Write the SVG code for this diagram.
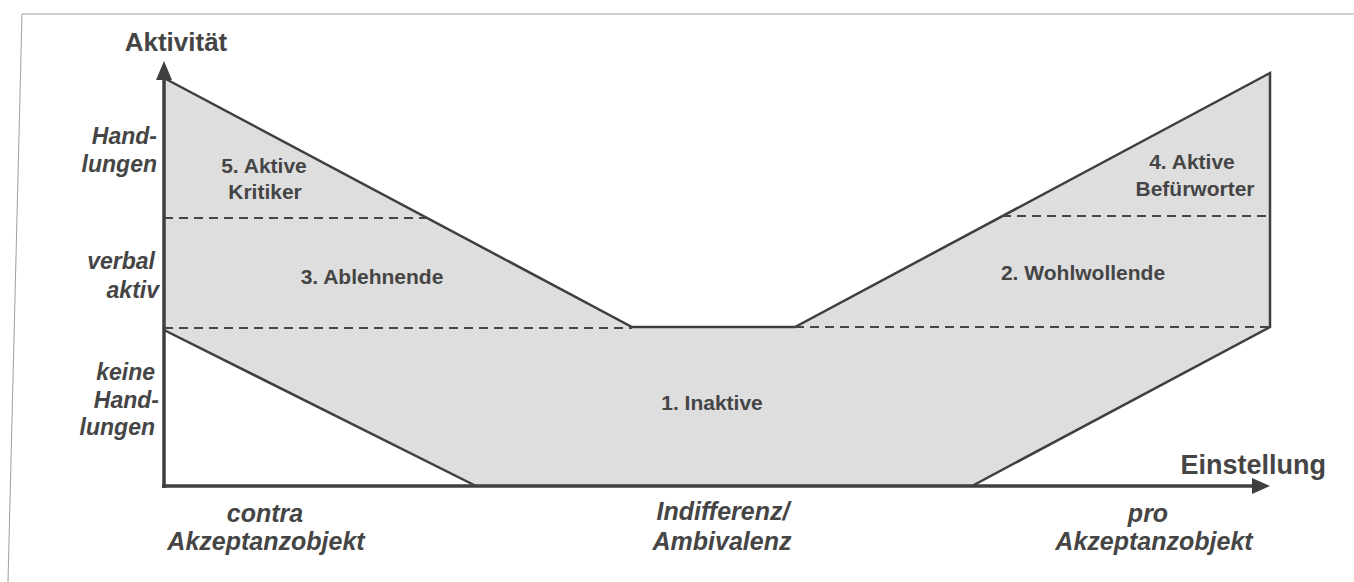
<svg xmlns="http://www.w3.org/2000/svg" width="1354" height="582" viewBox="0 0 1354 582">
  <defs>
    <style>
      .region { fill: #dedede; stroke: none; }
      .outline { fill: none; stroke: #3f3f3f; stroke-width: 2.5; stroke-linejoin: miter; }
      .dash { fill: none; stroke: #454545; stroke-width: 2.2; stroke-dasharray: 9 6; }
      .axis { fill: none; stroke: #3f3f3f; stroke-width: 3.5; }
      .lbl { font-family: "Liberation Sans", Arial, sans-serif; font-weight: bold; fill: #454545; font-size: 21px; text-anchor: middle; }
      .ax { font-family: "Liberation Sans", Arial, sans-serif; font-weight: bold; fill: #454545; }
      .it { font-family: "Liberation Sans", Arial, sans-serif; font-weight: bold; font-style: italic; fill: #454545; }
    </style>
  </defs>
  <rect x="0" y="0" width="1354" height="582" fill="#ffffff"/>
  <path d="M1354,14 L22,14 L8,582" fill="none" stroke="#a0a0a0" stroke-width="1"/>

  <g id="shape">
    <polygon class="region" points="164,78 632,327 795,327 1270,73 1270,327 972,486 476,486 164,330"/>
  </g>

  <g id="node-5-aktive-kritiker">
    <text class="lbl" x="264" y="173">5. Aktive</text>
    <text class="lbl" x="265" y="199">Kritiker</text>
  </g>
  <g id="node-3-ablehnende">
    <text class="lbl" x="372" y="284">3. Ablehnende</text>
  </g>
  <g id="node-1-inaktive">
    <text class="lbl" x="712" y="410" font-size="22">1. Inaktive</text>
  </g>
  <g id="node-2-wohlwollende">
    <text class="lbl" x="1083" y="280">2. Wohlwollende</text>
  </g>
  <g id="node-4-aktive-befuerworter">
    <text class="lbl" x="1192" y="169">4. Aktive</text>
    <text class="lbl" x="1195" y="196">Befürworter</text>
  </g>

  <g id="connectors">
    <polyline class="outline" points="164,78 632,327 795,327 1270,73 1270,327 972,486"/>
    <line class="outline" x1="164" y1="330" x2="476" y2="486"/>
    <line class="dash" x1="164" y1="218" x2="428" y2="218"/>
    <line class="dash" x1="1002" y1="216" x2="1270" y2="216"/>
    <line class="dash" x1="164" y1="328" x2="632" y2="328"/>
    <line class="dash" x1="795" y1="327" x2="1270" y2="327"/>
    <line class="axis" x1="164" y1="488" x2="164" y2="80"/>
    <polygon points="164,61 156,80 172,80" fill="#3f3f3f"/>
    <line class="axis" x1="162" y1="486" x2="1252" y2="486"/>
    <polygon points="1270,486 1252,478 1252,494" fill="#3f3f3f"/>
  </g>

  <g id="axis-labels">
    <text class="ax" x="176" y="51" font-size="26" text-anchor="middle">Aktivität</text>
    <text class="ax" x="1326" y="474" font-size="27" text-anchor="end">Einstellung</text>
  </g>

  <g id="y-labels">
    <text class="it" font-size="23" text-anchor="end" x="157" y="144">Hand-</text>
    <text class="it" font-size="23" text-anchor="end" x="157" y="172">lungen</text>
    <text class="it" font-size="23" text-anchor="end" x="155" y="269">verbal</text>
    <text class="it" font-size="23" text-anchor="end" x="159" y="298">aktiv</text>
    <text class="it" font-size="23" text-anchor="end" x="155" y="380">keine</text>
    <text class="it" font-size="23" text-anchor="end" x="159" y="408">Hand-</text>
    <text class="it" font-size="23" text-anchor="end" x="155" y="435">lungen</text>
  </g>

  <g id="x-labels">
    <text class="it" font-size="25" text-anchor="middle" x="265" y="522">contra</text>
    <text class="it" font-size="25" text-anchor="middle" x="266" y="550">Akzeptanzobjekt</text>
    <text class="it" font-size="25" text-anchor="middle" x="723" y="520">Indifferenz/</text>
    <text class="it" font-size="25" text-anchor="middle" x="722" y="550">Ambivalenz</text>
    <text class="it" font-size="25" text-anchor="middle" x="1148" y="522">pro</text>
    <text class="it" font-size="25" text-anchor="middle" x="1154" y="550">Akzeptanzobjekt</text>
  </g>
</svg>
